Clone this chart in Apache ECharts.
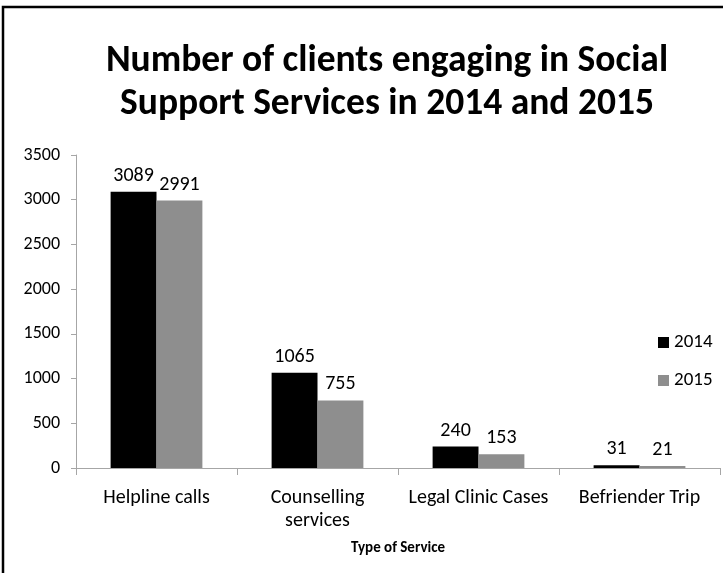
<!DOCTYPE html>
<html>
<head>
<meta charset="utf-8">
<script src="https://cdn.jsdelivr.net/npm/echarts@6/dist/echarts.min.js"></script>
<style>
  html, body { margin: 0; padding: 0; background: #ffffff; }
  #chart { width: 723px; height: 573px; }
</style>
</head>
<body>
<div id="chart"></div>
<script>
// Services and client counts per year
const categories = ['Helpline calls', 'Counselling\nservices', 'Legal Clinic Cases', 'Befriender Trip'];
const clients2014 = [3089, 1065, 240, 31];
const clients2015 = [2991, 755, 153, 21];
const yTicks = { min: 0, max: 3500, interval: 500 };

const FONT = "Carlito, 'Liberation Sans', Arial, sans-serif";
const axisGray = '#a6a6a6';

const chart = echarts.init(document.getElementById('chart'), null, { renderer: 'canvas' });

const valueLabel = {
  show: true,
  position: 'top',
  distance: 6,
  color: '#000',
  fontFamily: FONT,
  fontSize: 20
};

chart.setOption({
  animation: false,
  backgroundColor: '#ffffff',
  title: {
    text: 'Number of clients engaging in Social\nSupport Services in 2014 and 2015',
    left: 382,
    textAlign: 'center',
    top: 35,
    textStyle: {
      fontFamily: FONT,
      fontWeight: 'bold',
      fontSize: 37.5,
      lineHeight: 43,
      color: '#000'
    }
  },
  legend: {
    orient: 'vertical',
    left: 653,
    top: 328,
    itemWidth: 11,
    itemHeight: 11,
    itemGap: 19,
    icon: 'rect',
    textStyle: { fontFamily: FONT, fontSize: 19, color: '#000' },
    data: ['2014', '2015']
  },
  grid: { left: 76, right: 3, top: 155, bottom: 105 },
  xAxis: {
    type: 'category',
    data: categories,
    name: 'Type of Service',
    nameLocation: 'middle',
    nameGap: 73,
    nameTextStyle: { fontFamily: FONT, fontWeight: 'bold', fontSize: 15, color: '#000' },
    axisLine: { lineStyle: { color: axisGray, width: 1 } },
    axisTick: { show: true, length: 7, lineStyle: { color: axisGray } },
    axisLabel: {
      margin: 18,
      fontFamily: FONT,
      fontSize: 20,
      lineHeight: 23,
      color: '#000',
      interval: 0
    }
  },
  yAxis: {
    type: 'value',
    min: yTicks.min,
    max: yTicks.max,
    interval: yTicks.interval,
    splitLine: { show: false },
    axisLine: { show: true, lineStyle: { color: axisGray, width: 1 } },
    axisTick: { show: true, length: 5, lineStyle: { color: axisGray } },
    axisLabel: {
      margin: 16,
      fontFamily: FONT,
      fontSize: 18,
      color: '#000',
      formatter: (v) => String(v)
    }
  },
  series: [
    {
      name: '2014',
      type: 'bar',
      data: clients2014,
      itemStyle: { color: '#000000' },
      barGap: '0%',
      barCategoryGap: '43%',
      label: valueLabel
    },
    {
      name: '2015',
      type: 'bar',
      data: clients2015,
      itemStyle: { color: '#8e8e8e' },
      label: valueLabel
    }
  ],
  graphic: [
    {
      type: 'rect',
      shape: { x: 3, y: 7, width: 900, height: 900 },
      style: { fill: 'none', stroke: '#000', lineWidth: 2.5 },
      silent: true
    }
  ]
});
</script>
</body>
</html>
